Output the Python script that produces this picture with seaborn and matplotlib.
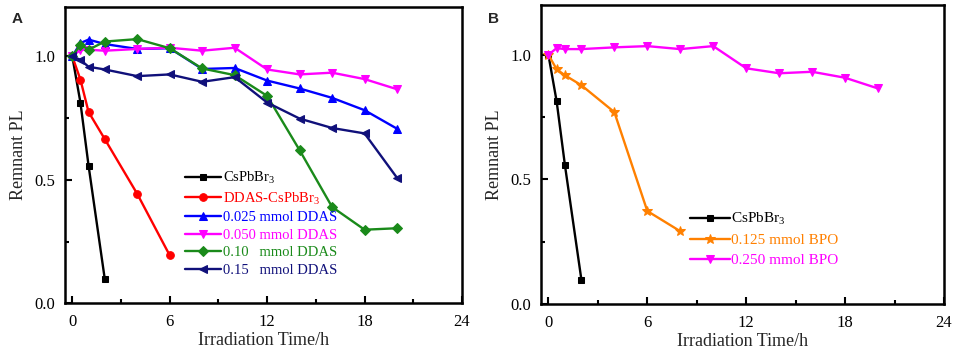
import matplotlib
matplotlib.use("Agg")
import matplotlib.pyplot as plt
from matplotlib.ticker import MultipleLocator
import seaborn as sns
import pandas as pd

# ---------------- data ----------------
t_cs = [0, 0.5, 1, 2]
v_cs = [1.0, 0.813, 0.558, 0.098]

t_ddas = [0, 0.5, 1, 2, 4, 6]
v_ddas = [1.0, 0.906, 0.775, 0.665, 0.443, 0.194]

t_long = [0, 0.5, 1, 2, 4, 6, 8, 10, 12, 14, 16, 18, 20]
v_025 = [1.0, 1.054, 1.068, 1.05, 1.03, 1.033, 0.949, 0.953, 0.902, 0.87, 0.832, 0.782, 0.707]
v_050 = [1.0, 1.027, 1.027, 1.023, 1.03, 1.035, 1.023, 1.035, 0.947, 0.927, 0.934, 0.908, 0.867]
v_010 = [1.0, 1.047, 1.027, 1.06, 1.07, 1.033, 0.951, 0.924, 0.84, 0.62, 0.39, 0.298, 0.304]
v_015 = [1.0, 0.986, 0.958, 0.947, 0.92, 0.927, 0.897, 0.916, 0.813, 0.748, 0.71, 0.688, 0.508]

t_bpo125 = [0, 0.5, 1, 2, 4, 6, 8]
v_bpo125 = [1.0, 0.942, 0.918, 0.878, 0.77, 0.373, 0.292]
v_bpo250 = [1.0, 1.027, 1.023, 1.023, 1.03, 1.035, 1.023, 1.035, 0.946, 0.926, 0.932, 0.908, 0.865]

labels_a = ["CsPbBr$_3$", "DDAS-CsPbBr$_3$", "0.025 mmol DDAS", "0.050 mmol DDAS",
            "0.10   mmol DDAS", "0.15   mmol DDAS"]
labels_b = ["CsPbBr$_3$", "0.125 mmol BPO", "0.250 mmol BPO"]
x_ticks = [0, 6, 12, 18, 24]
y_ticks = [0.0, 0.5, 1.0]

# ---------------- style ----------------
sns.set_style("ticks")
plt.rcParams["font.family"] = ["Liberation Serif", "DejaVu Serif"]
plt.rcParams["mathtext.fontset"] = "custom"
plt.rcParams["mathtext.rm"] = "Liberation Serif"
plt.rcParams["mathtext.it"] = "Liberation Serif:italic"

fig = plt.figure(figsize=(9.57, 3.56), dpi=100)
axA = fig.add_axes([65/957, 1-303.3/356, (462-65)/957, (303.3-7)/356])
axB = fig.add_axes([541/957, 1-304/356, (944-541)/957, (304-5)/356])

def draw(ax, t, v, color, marker, label, ms=5.5):
    df = pd.DataFrame({"t": t, "v": v})
    sns.lineplot(data=df, x="t", y="v", ax=ax, color=color, marker=marker,
                 markersize=ms, markeredgecolor=color, linewidth=1.7, label=label)

series_a = [
    (t_cs, v_cs, "#000000", "s", 5.0),
    (t_ddas, v_ddas, "#ff0000", "o", 5.5),
    (t_long, v_025, "#0000ff", "^", 6.0),
    (t_long, v_050, "#ff00ff", "v", 6.0),
    (t_long, v_010, "#1a8a1a", "D", 5.0),
    (t_long, v_015, "#10107a", "<", 6.0),
]
for (t, v, c, m, ms), lab in zip(series_a, labels_a):
    draw(axA, t, v, c, m, lab, ms)

series_b = [
    (t_cs, v_cs, "#000000", "s", 5.0),
    (t_bpo125, v_bpo125, "#ff8000", "*", 7.0),
    (t_long, v_bpo250, "#ff00ff", "v", 6.0),
]
for (t, v, c, m, ms), lab in zip(series_b, labels_b):
    draw(axB, t, v, c, m, lab, ms)

for ax in (axA, axB):
    ax.set_xlim(-0.45, 24)
    ax.set_ylim(0, 1.2)
    ax.set_xticks(x_ticks)
    ax.set_yticks(y_ticks)
    ax.set_yticklabels([f"{y:.1f}" for y in y_ticks])
    ax.xaxis.set_minor_locator(MultipleLocator(3))
    ax.yaxis.set_minor_locator(MultipleLocator(0.25))
    ax.tick_params(which="both", direction="in", top=False, right=False,
                   labelsize=12, width=1.5, colors="black")
    ax.tick_params(axis="x", which="major", length=5, pad=8)
    ax.tick_params(axis="y", which="major", length=5, pad=7)
    ax.tick_params(which="minor", length=3)
    for s in ax.spines.values():
        s.set_visible(True)
        s.set_linewidth(1.8)
        s.set_color("black")
    ax.set_xlabel("Irradiation Time/h", fontsize=13, labelpad=1)
    ax.set_ylabel("Remnant PL", fontsize=13, labelpad=5)

legA = axA.legend(loc="upper left", bbox_to_anchor=(0.302, 0.45), frameon=False,
                  fontsize=10.5, handlelength=2.5, handletextpad=0.1,
                  labelspacing=0.3, borderpad=0, borderaxespad=0,
                  labelcolor="linecolor")
legB = axB.legend(loc="upper left", bbox_to_anchor=(0.37, 0.31), frameon=False,
                  fontsize=11, handlelength=2.6, handletextpad=0.1,
                  labelspacing=0.4, borderpad=0, borderaxespad=0,
                  labelcolor="linecolor")

fig.text(17/957, 1-19/356, "A", fontsize=11, fontweight="bold",
         family="Liberation Sans", ha="center", va="center")
fig.text(494/957, 1-19/356, "B", fontsize=11, fontweight="bold",
         family="Liberation Sans", ha="center", va="center")

fig.savefig("out.png", dpi=100)
